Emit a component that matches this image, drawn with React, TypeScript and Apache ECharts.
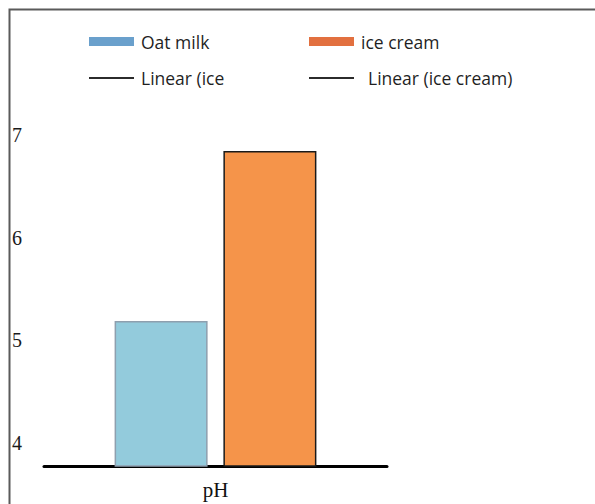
import React, { useEffect, useRef } from "react";
import * as echarts from "echarts";

const categories = ["pH"];
const oatMilk = [5.19];
const iceCream = [6.84];
const trendOatLabel = "Linear (ice";
const trendIceLabel = "Linear (ice cream)";
const yTickValues = [4, 5, 6, 7];

export default function App() {
  const ref = useRef<HTMLDivElement>(null);
  useEffect(() => {
    if (!ref.current) return;
    const chart = echarts.init(ref.current, null, { renderer: "svg" });
    const legendText = {
      fontFamily: "Open Sans",
      fontSize: 17.5,
      color: "#1f1f1f",
      lineHeight: 18,
    };
    const mkLegend = (name: string, left: number, top: number, color: string, h: number, padLeft: number) => ({
      data: [{ name, itemStyle: { color, borderWidth: 0 } }],
      left,
      top,
      padding: 0,
      icon: "rect",
      itemWidth: 45,
      itemHeight: h,
      itemStyle: { borderWidth: 0 },
      textStyle: { ...legendText, padding: [0, 0, 0, padLeft] },
    });
    chart.setOption({
      animation: false,
      backgroundColor: "#ffffff",
      graphic: [
        {
          type: "rect",
          shape: { x: 9.5, y: 9.5, width: 700, height: 700 },
          style: { fill: "none", stroke: "#5a5a5a", lineWidth: 2 },
          z: 100,
        },
      ],
      legend: [
        mkLegend("Oat milk", 89, 32.5, "#6aa0cc", 9, 2),
        mkLegend("ice cream", 309, 32.5, "#e2703f", 9, 2),
        mkLegend(trendOatLabel, 89, 69, "#2b2b2b", 2, 2),
        mkLegend(trendIceLabel, 309, 69, "#2b2b2b", 2, 9),
      ],
      grid: { left: 44, right: 208, top: 114, bottom: 38, containLabel: false },
      xAxis: {
        type: "category",
        data: categories,
        axisLine: { show: true, lineStyle: { color: "#000", width: 3 } },
        axisTick: { show: false },
        axisLabel: {
          margin: 13,
          fontFamily: "Liberation Serif",
          fontSize: 21,
          color: "#111",
        },
      },
      yAxis: {
        type: "value",
        min: 3.78,
        max: 7.2,
        axisLine: { show: false },
        axisTick: { show: false },
        splitLine: { show: false },
        axisLabel: {
          customValues: yTickValues,
          align: "left",
          margin: 32,
          fontFamily: "Liberation Serif",
          fontSize: 20,
          color: "#1a1a1a",
        },
      },
      series: [
        {
          name: "Oat milk",
          type: "bar",
          data: oatMilk,
          barWidth: 93,
          barGap: "17%",
          itemStyle: { color: "#93cbdc", borderColor: "#8e9fae", borderWidth: 1.5 },
        },
        {
          name: "ice cream",
          type: "bar",
          data: iceCream,
          barWidth: 93,
          itemStyle: { color: "#f5944a", borderColor: "#1a1a1a", borderWidth: 1.5 },
        },
        {
          name: trendOatLabel,
          type: "line",
          data: oatMilk,
          showSymbol: false,
          lineStyle: { color: "#2b2b2b", width: 2 },
          itemStyle: { color: "#2b2b2b" },
        },
        {
          name: trendIceLabel,
          type: "line",
          data: iceCream,
          showSymbol: false,
          lineStyle: { color: "#2b2b2b", width: 2 },
          itemStyle: { color: "#2b2b2b" },
        },
      ],
    });
    return () => chart.dispose();
  }, []);
  return (
    <div
      ref={ref}
      style={{ position: "fixed", left: 0, top: 0, width: 595, height: 504 }}
    />
  );
}
